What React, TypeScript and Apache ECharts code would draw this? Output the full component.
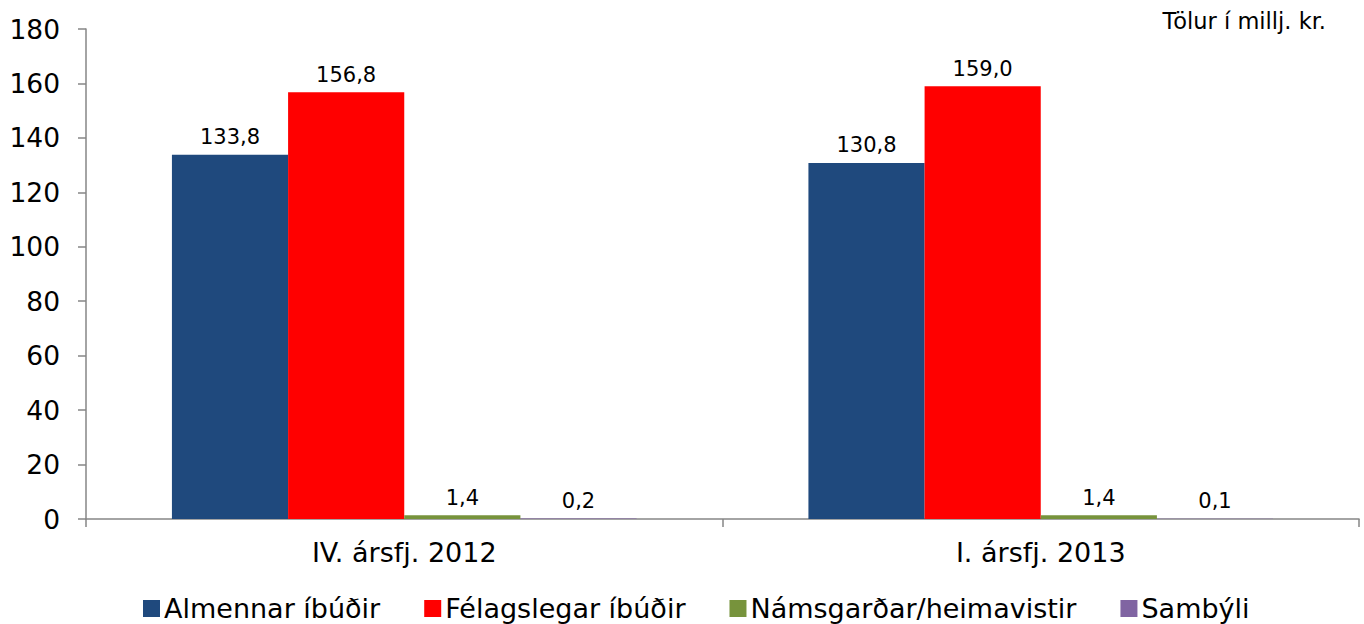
import React, { useEffect, useRef } from "react";
import * as echarts from "echarts";

const categories = ["IV. ársfj. 2012", "I. ársfj. 2013"];
const seriesNames = ["Almennar íbúðir", "Félagslegar íbúðir", "Námsgarðar/heimavistir", "Sambýli"];
const almennar = [133.8, 130.8];
const felagslegar = [156.8, 159.0];
const namsgardar = [1.4, 1.4];
const sambyli = [0.2, 0.1];
const seriesColors = ["#1F497D", "#FF0000", "#77933C", "#8064A2"];
const unitNote = "Tölur í millj. kr.";

const FONT = "DejaVu Sans, Verdana, sans-serif";

export default function App() {
  const ref = useRef<HTMLDivElement>(null);
  useEffect(() => {
    document.body.style.margin = "0";
    const chart = echarts.init(ref.current!, null, { renderer: "svg" });
    const data = [almennar, felagslegar, namsgardar, sambyli];
    chart.setOption({
      animation: false,
      textStyle: { fontFamily: FONT },
      title: {
        text: unitNote,
        right: 38,
        top: 9,
        padding: 0,
        textStyle: { fontSize: 22.5, fontWeight: "normal", color: "#000", fontFamily: FONT },
      },
      legend: {
        top: 590,
        left: 138,
        itemWidth: 17,
        itemHeight: 17,
        itemGap: 44,
        icon: "rect",
        textStyle: { fontSize: 27, color: "#000", fontFamily: FONT, padding: [0, 0, 0, -1] },
        data: seriesNames,
      },
      grid: { left: 86, right: 5, top: 29, bottom: 105 },
      xAxis: {
        type: "category",
        data: categories,
        axisLine: { lineStyle: { color: "#868686", width: 1.5 } },
        axisTick: { show: true, length: 8, lineStyle: { color: "#868686", width: 1.5 } },
        axisLabel: { fontSize: 27, color: "#000", margin: 20, fontFamily: FONT },
      },
      yAxis: {
        type: "value",
        min: 0,
        max: 180,
        interval: 20,
        splitLine: { show: false },
        axisLine: { show: true, lineStyle: { color: "#868686", width: 1.5 } },
        axisTick: { show: true, length: 8, lineStyle: { color: "#868686", width: 1.5 } },
        axisLabel: { fontSize: 26.5, color: "#000", margin: 26, fontFamily: FONT },
      },
      series: seriesNames.map((name, i) => ({
        name,
        type: "bar",
        data: data[i],
        barGap: "0%",
        barCategoryGap: "27%",
        itemStyle: { color: seriesColors[i] },
        label: {
          show: true,
          position: "top",
          distance: 7,
          fontSize: 21,
          color: "#000",
          fontFamily: FONT,
          formatter: (p: any) => Number(p.value).toFixed(1).replace(".", ","),
        },
      })),
    });
    return () => chart.dispose();
  }, []);
  return <div ref={ref} style={{ width: 1364, height: 624 }} />;
}
